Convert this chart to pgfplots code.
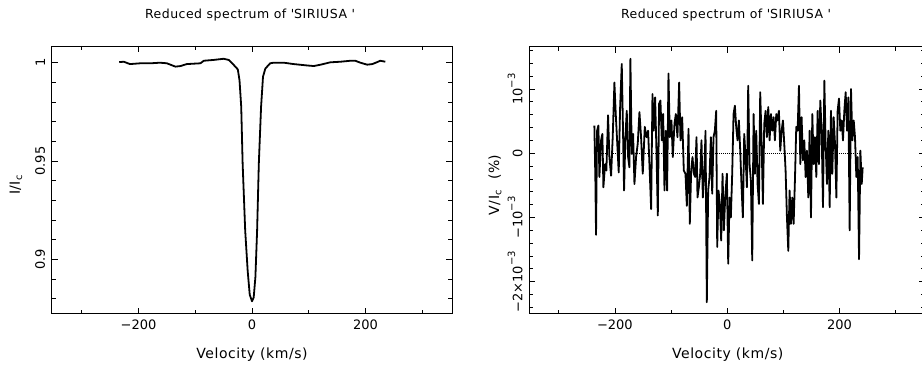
\documentclass[border=0pt]{standalone}
\usepackage{pgfplots}
\pgfplotsset{compat=1.18}
\usepackage{fontspec}
\setmainfont[LetterSpace=4]{DejaVu Sans}
\newfontfamily\tickfont{DejaVu Sans}
\newcommand\sups[1]{\raisebox{0.55em}{\fontsize{10}{10}\selectfont #1}}
\newcommand\lbl{\fontsize{14}{16}\selectfont}
\newcommand\tkl{\tickfont\fontsize{13}{15}\selectfont}

\pgfplotstableread{
v i
-234 1.0003
-226 1.0005
-215 0.9993
-197 0.9997
-179 0.9997
-162 1.0000
-150 0.9997
-135 0.9980
-126 0.9983
-115 0.9993
-91 0.9997
-85 1.0010
-68 1.0014
-50 1.0020
-41 1.0014
-32 0.9988
-25 0.9966
-22 0.9910
-19 0.9776
-16.5 0.9486
-12 0.9146
-7.6 0.8940
-4 0.8820
0 0.8786
3 0.8806
6 0.8910
9 0.9146
12 0.9486
16 0.9776
19.4 0.9929
23.5 0.9970
32 0.9997
38 1.0000
56 1.0000
73.5 0.9993
97 0.9986
109 0.9983
121 0.9990
138 1.0002
156 1.0005
173.5 1.0010
182 1.0010
191 1.0000
203 0.9990
212 0.9993
220.6 1.0003
226 1.0010
235 1.0005
}\Itab

\pgfplotstableread{
v s
-236.6 0.43e-3
-234.8 -0.40e-3
-233.6 -1.27e-3
-231.8 0.35e-3
-229.4 0.43e-3
-227.6 -0.37e-3
-224.7 0.20e-3
-222.3 0.30e-3
-220.5 -0.53e-3
-217.5 -0.17e-3
-215.2 -0.27e-3
-212.2 0.59e-3
-209.8 -0.06e-3
-206.8 -0.35e-3
-203.9 0.25e-3
-200.9 1.10e-3
-198.5 0.61e-3
-196.1 0.20e-3
-193.2 -0.30e-3
-190.8 0.69e-3
-187.8 1.39e-3
-186.0 0.56e-3
-183.7 -0.58e-3
-181.3 0.25e-3
-178.9 0.66e-3
-176.5 -0.06e-3
-174.2 -0.22e-3
-172.4 1.47e-3
-170.0 -0.01e-3
-167.6 0.30e-3
-165.2 -0.48e-3
-162.3 -0.06e-3
-159.3 0.15e-3
-156.3 0.64e-3
-153.4 0.25e-3
-150.4 -0.32e-3
-146.8 0.41e-3
-143.8 0.25e-3
-140.9 0.35e-3
-138.5 -0.17e-3
-135.5 -0.87e-3
-133.1 0.92e-3
-130.8 0.35e-3
-128.4 0.87e-3
-126.0 0.04e-3
-123.6 -0.97e-3
-121.3 0.77e-3
-118.9 0.82e-3
-116.5 0.20e-3
-114.1 0.61e-3
-111.7 -0.58e-3
-109.4 0.35e-3
-107.0 -0.58e-3
-104.6 1.24e-3
-102.2 0.25e-3
-99.3 0.51e-3
-96.9 -0.06e-3
-93.9 0.46e-3
-91.5 0.61e-3
-88.6 0.25e-3
-85.6 1.10e-3
-83.2 0.20e-3
-80.2 0.56e-3
-77.3 -0.27e-3
-74.3 -0.32e-3
-71.9 -0.82e-3
-68.9 0.38e-3
-66.6 -1.10e-3
-64.2 -0.27e-3
-61.8 -0.06e-3
-59.4 -0.32e-3
-57.1 -0.37e-3
-54.7 0.25e-3
-52.9 -0.69e-3
-50.5 -0.53e-3
-48.1 -0.32e-3
-45.8 0.20e-3
-43.4 -0.69e-3
-41.0 -0.37e-3
-38.6 0.35e-3
-36.3 -2.32e-3
-33.9 -0.58e-3
-31.5 -0.37e-3
-29.1 0.25e-3
-26.7 -0.63e-3
-24.4 0.25e-3
-22.0 0.35e-3
-19.6 0.66e-3
-17.8 -1.46e-3
-15.5 -0.58e-3
-13.1 -0.79e-3
-10.7 -1.36e-3
-8.3 -0.32e-3
-5.9 -1.20e-3
-3.6 -0.69e-3
-0.6 -0.32e-3
1.8 -1.72e-3
4.2 -0.69e-3
6.5 -1.00e-3
8.9 -0.32e-3
11.3 0.61e-3
13.7 0.74e-3
16.0 0.41e-3
18.4 0.20e-3
20.8 0.51e-3
23.2 0.04e-3
25.6 -0.53e-3
27.9 -1.00e-3
30.3 0.30e-3
32.7 -0.06e-3
35.1 -0.53e-3
37.4 1.05e-3
39.8 -0.17e-3
42.2 -0.43e-3
44.6 -1.67e-3
47.0 0.61e-3
49.3 -0.32e-3
51.7 0.35e-3
54.1 -0.48e-3
56.5 -0.79e-3
58.8 0.95e-3
61.2 0.20e-3
63.6 -0.79e-3
66.0 0.46e-3
68.4 0.66e-3
70.7 0.25e-3
73.1 0.72e-3
75.5 0.20e-3
77.9 0.61e-3
80.2 0.35e-3
82.6 0.56e-3
85.0 0.20e-3
87.4 0.61e-3
89.7 0.51e-3
92.1 0.66e-3
94.5 0.04e-3
96.9 0.35e-3
99.3 0.51e-3
101.6 0.15e-3
104.0 -0.27e-3
106.4 -1.00e-3
108.8 -1.52e-3
111.1 -0.58e-3
113.5 -1.10e-3
115.9 -0.69e-3
118.3 -1.10e-3
120.6 -0.43e-3
123.0 0.41e-3
125.4 0.35e-3
127.8 1.05e-3
130.2 -0.17e-3
132.5 0.56e-3
134.9 -0.11e-3
137.3 0.20e-3
139.7 -0.37e-3
142.0 0.04e-3
144.4 -0.69e-3
146.8 0.35e-3
149.2 -1.00e-3
151.6 0.61e-3
153.9 -0.17e-3
156.3 0.25e-3
158.7 -0.37e-3
161.1 0.66e-3
163.4 -0.17e-3
165.8 0.82e-3
168.2 0.35e-3
170.6 -0.84e-3
173.0 1.13e-3
175.3 0.15e-3
177.7 -0.48e-3
180.1 0.35e-3
182.5 -0.84e-3
184.8 0.66e-3
187.2 -0.32e-3
189.6 0.56e-3
192.0 0.15e-3
194.4 -0.69e-3
196.7 0.66e-3
199.1 0.85e-3
201.5 0.35e-3
203.9 0.51e-3
206.2 0.20e-3
208.6 0.66e-3
211.0 0.95e-3
213.4 0.35e-3
215.8 0.87e-3
218.1 -1.20e-3
220.5 1.00e-3
222.9 0.20e-3
225.3 0.51e-3
227.6 0.25e-3
230.0 -0.37e-3
232.4 -0.06e-3
234.8 -1.65e-3
237.2 0.04e-3
239.6 -0.48e-3
241.3 -0.22e-3
}\Vtab

\pgfplotsset{
  spec/.style={
    scale only axis, anchor=south west,
    xmin=-353, xmax=353,
    scaled y ticks=false, scaled x ticks=false,
    axis line style={line width=0.8pt},
    every tick/.style={line width=0.8pt, black},
    major tick length=6pt, minor tick length=4pt,
    tick align=inside,
    xtick={-200,0,200}, xticklabels={−200,0,200},
    minor xtick={-300,-100,100,300},
    ticklabel style={font=\tkl},
    xticklabel style={yshift=-3pt},
    yticklabel style={rotate=90, anchor=south, yshift=3pt},
  }
}

\begin{document}
\begin{tikzpicture}
\path[use as bounding box] (0,0) rectangle (922pt,367pt);

\begin{axis}[spec,
  at={(51.7pt,53.3pt)}, width=400.6pt, height=267.7pt,
  ymin=0.8723, ymax=1.0085,
  ytick={0.9,0.95,1}, yticklabels={0.9,0.95,1},
  minor ytick={0.88,0.89,0.91,0.92,0.93,0.94,0.96,0.97,0.98,0.99},
]
\addplot[black, line width=1.8pt, line join=round] table[x=v, y=i] {\Itab};
\end{axis}

\begin{axis}[spec,
  at={(529pt,53.3pt)}, width=396.4pt, height=267pt,
  ymin=-2.498e-3, ymax=1.658e-3,
  ytick={-2e-3,-1e-3,0,1e-3},
  yticklabels={−2×10\sups{−3},−10\sups{−3},0,10\sups{−3}},
  minor ytick={-2.4e-3,-2.2e-3,-1.8e-3,-1.6e-3,-1.4e-3,-1.2e-3,-0.8e-3,-0.6e-3,-0.4e-3,-0.2e-3,0.2e-3,0.4e-3,0.6e-3,0.8e-3,1.2e-3,1.4e-3,1.6e-3},
]
\addplot[black, line width=1pt, densely dotted] coordinates {(-225,0) (235,0)};
\addplot[black, line width=1.8pt, line join=round] table[x=v, y=s] {\Vtab};
\end{axis}

\node[font=\fontsize{12.5}{15}\selectfont] at (250pt,352pt) {Reduced spectrum of \textquotesingle SIRIUSA \textquotesingle};
\node[font=\fontsize{12.5}{15}\selectfont] at (726pt,352pt) {Reduced spectrum of \textquotesingle SIRIUSA \textquotesingle};
\node[font=\lbl] at (252pt,12pt) {Velocity (km/s)};
\node[font=\lbl] at (727.7pt,12pt) {Velocity (km/s)};
\node[font=\lbl, rotate=90] at (16pt,182pt) {I/I\textsubscript{c}};
\node[font=\lbl, rotate=90] at (495pt,182pt) {V/I\textsubscript{c}\ \ (\%)};
\end{tikzpicture}
\end{document}
